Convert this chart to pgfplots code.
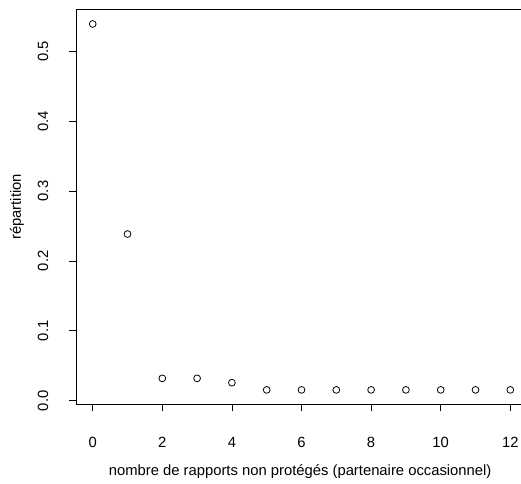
\documentclass[border=0pt]{standalone}
\usepackage{fontspec}
\setmainfont{Liberation Sans}
\usepackage{pgfplots}
\pgfplotsset{compat=1.18}

\begin{document}
\begin{tikzpicture}[x=1pt,y=1pt]
\begin{axis}[
    at={(76pt,79pt)}, anchor=south west,
    scale only axis,
    width=451pt, height=394.5pt,
    xmin=-0.48, xmax=12.48,
    ymin=-0.0047, ymax=0.5597,
    separate axis lines,
    axis x line*=box, axis y line*=left,
    axis line style={line width=1pt},
    xtick={0,2,...,12},
    ytick={0,0.1,0.2,0.3,0.4,0.5},
    yticklabels={0.0,0.1,0.2,0.3,0.4,0.5},
    xtick pos=bottom, ytick pos=left,
    tick align=outside,
    major tick length=7pt,
    tick style={black, line width=0.8pt},
    /pgf/number format/assume math mode=true,
    tick label style={font=\fontsize{14.8}{17}\selectfont},
    xticklabel style={anchor=center, inner sep=0pt, yshift=-31pt},
    yticklabel style={anchor=center, inner sep=0pt, xshift=-26pt, rotate=90},
    xlabel={nombre de rapports non protégés (partenaire occasionnel)},
    ylabel={répartition},
    every axis x label/.style={at={(axis description cs:0.497,-0.1724)}, anchor=center, font=\fontsize{14.8}{17}\selectfont},
    every axis y label/.style={at={(axis description cs:-0.1308,0.5)}, rotate=90, anchor=center, font=\fontsize{14.8}{17}\selectfont},
]
\addplot[only marks, mark=o, mark size=3.4pt, mark options={line width=0.8pt, black}]
coordinates {
(0,0.539) (1,0.2385) (2,0.032) (3,0.032) (4,0.0258) (5,0.0155) (6,0.0155)
(7,0.0155) (8,0.0155) (9,0.0155) (10,0.0155) (11,0.0155) (12,0.0155)
};
\end{axis}
\pgfresetboundingbox
\useasboundingbox (0,0) rectangle (521,483);
\end{tikzpicture}
\end{document}
